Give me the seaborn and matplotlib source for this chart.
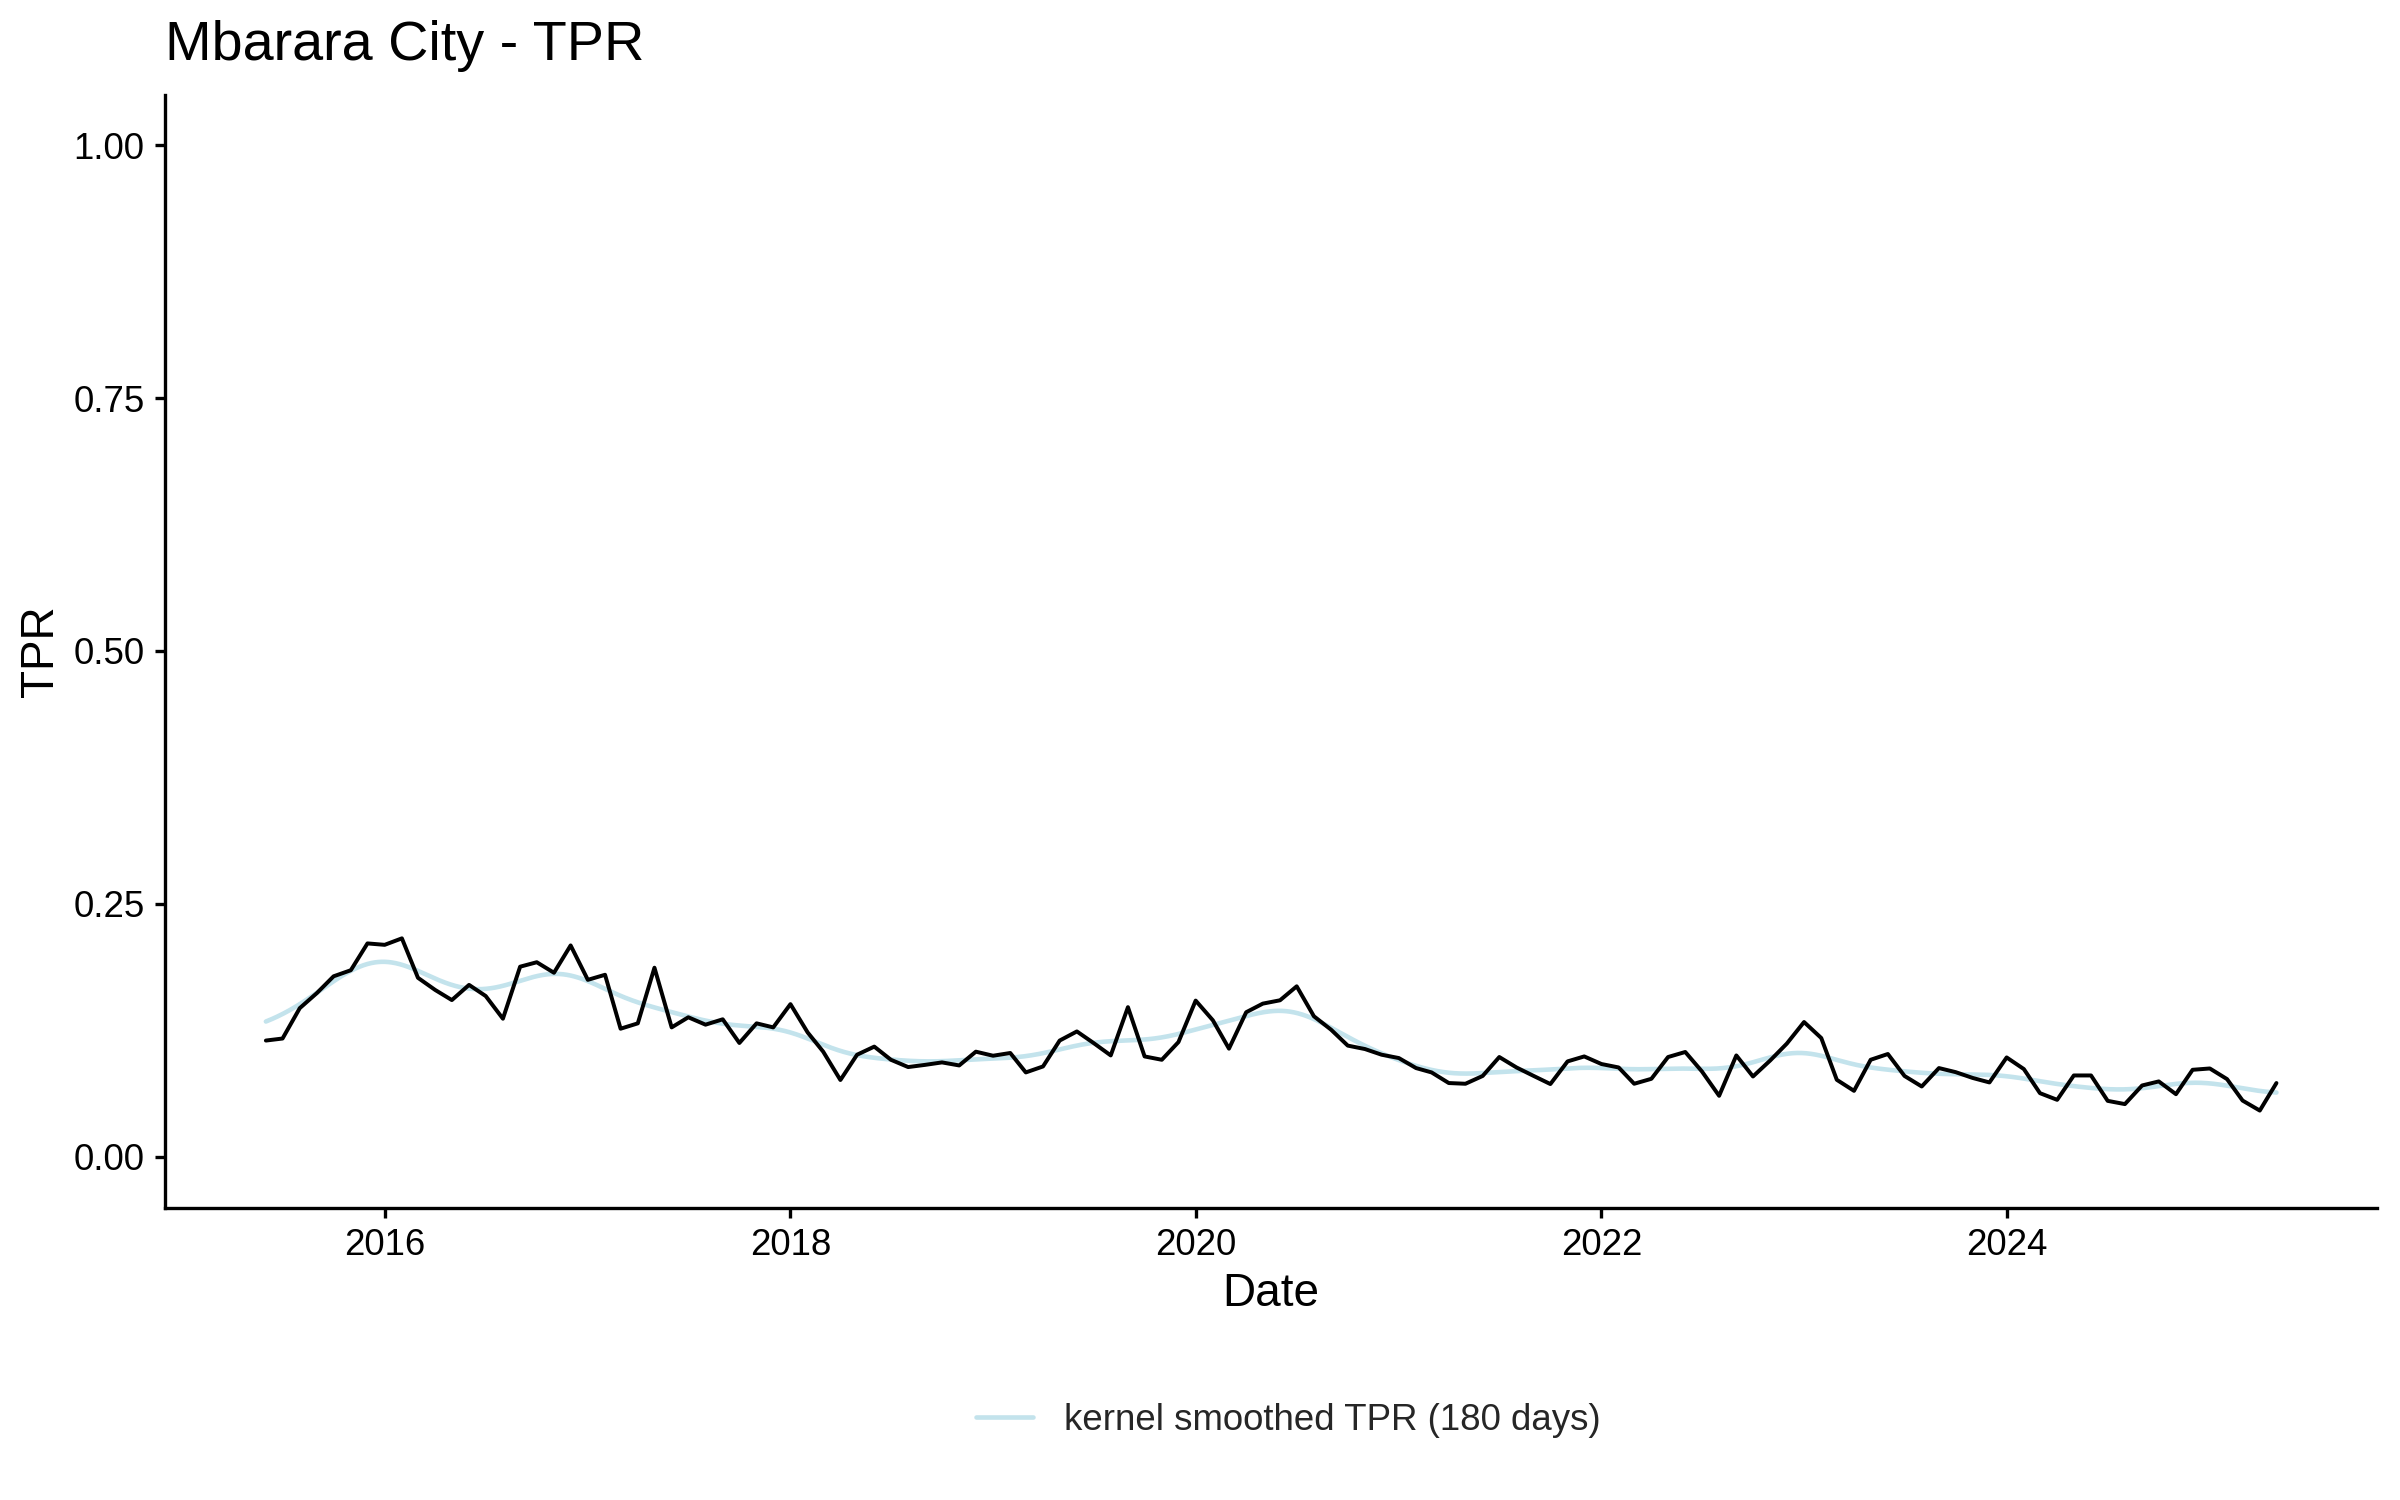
import numpy as np
import pandas as pd
import matplotlib
matplotlib.use("Agg")
import matplotlib.pyplot as plt
import matplotlib.dates as mdates
from matplotlib.lines import Line2D
import seaborn as sns

# ---- data (monthly TPR, Jun 2015 - May 2025) ----
start_month = "2015-06-01"
tpr = [
    0.115, 0.117, 0.147, 0.162, 0.1785, 0.1845, 0.211, 0.2096, 0.216, 0.177,
    0.165, 0.155, 0.170, 0.159, 0.1366, 0.188, 0.1924, 0.182, 0.209, 0.175,
    0.180, 0.1267, 0.132, 0.187, 0.128, 0.138, 0.1307, 0.136, 0.1126, 0.132,
    0.128, 0.151, 0.123, 0.104, 0.076, 0.101, 0.109, 0.096, 0.0888, 0.091,
    0.0934, 0.0904, 0.104, 0.100, 0.1027, 0.0835, 0.0894, 0.115, 0.124, 0.1126,
    0.1003, 0.148, 0.0993, 0.096, 0.1135, 0.1545, 0.135, 0.107, 0.143, 0.1515,
    0.1548, 0.1686, 0.139, 0.1257, 0.110, 0.1066, 0.101, 0.0977, 0.0878, 0.0835,
    0.073, 0.0723, 0.080, 0.0987, 0.0884, 0.080, 0.072, 0.0944, 0.0993, 0.0918,
    0.0884, 0.0723, 0.0772, 0.0987, 0.1037, 0.0845, 0.0604, 0.1003, 0.0795, 0.0953,
    0.112, 0.1333, 0.1175, 0.0762, 0.0653, 0.096, 0.1017, 0.080, 0.0696, 0.0878,
    0.0838, 0.078, 0.0736, 0.0983, 0.0868, 0.063, 0.0564, 0.0805, 0.0805, 0.0554,
    0.0522, 0.0706, 0.0746, 0.062, 0.0861, 0.0874, 0.0769, 0.0557, 0.0458, 0.073,
]
bandwidth_days = 180
title = "Mbarara City - TPR"
legend_label = "kernel smoothed TPR (180 days)"
y_ticks = [0.0, 0.25, 0.50, 0.75, 1.00]

dates = pd.date_range(start_month, periods=len(tpr), freq="MS")
df = pd.DataFrame({"Date": dates, "TPR": tpr})

# kernel smoother (normal kernel, R ksmooth convention: quartiles at +/- 0.25*bandwidth)
sd = 0.25 * bandwidth_days / 0.6744897501960817
t = (df["Date"] - df["Date"].iloc[0]).dt.days.to_numpy(dtype=float)
grid_dates = pd.date_range(dates[0], dates[-1], freq="D")
g = (grid_dates - dates[0]).days.to_numpy(dtype=float)
w = np.exp(-0.5 * ((g[:, None] - t[None, :]) / sd) ** 2)
smooth = (w @ np.asarray(tpr)) / w.sum(axis=1)
sm = pd.DataFrame({"Date": grid_dates, "TPR": smooth})

# ---- style ----
sns.set_style("ticks")
plt.rcParams["font.family"] = ["Liberation Sans", "DejaVu Sans"]

fig = plt.figure(figsize=(8, 5), dpi=300)
ax = fig.add_axes([0.0689, 0.195, 0.9215, 0.742])

smooth_color = "#c3e3ec"
sns.lineplot(data=sm, x="Date", y="TPR", ax=ax, color=smooth_color, linewidth=1.1)
sns.lineplot(data=df, x="Date", y="TPR", ax=ax, color="black", linewidth=0.95)

x0 = mdates.date2num(dates[0])
x1 = mdates.date2num(dates[-1])
pad = 0.05 * (x1 - x0)
ax.set_xlim(x0 - pad, x1 + pad)
ax.set_ylim(-0.05, 1.05)

ax.xaxis.set_major_locator(mdates.YearLocator(base=2))
ax.xaxis.set_major_formatter(mdates.DateFormatter("%Y"))
ax.set_yticks(y_ticks)
ax.set_yticklabels([f"{v:.2f}" for v in y_ticks])

for s in ["top", "right"]:
    ax.spines[s].set_visible(False)
for s in ["left", "bottom"]:
    ax.spines[s].set_color("black")
    ax.spines[s].set_linewidth(0.8)
ax.tick_params(axis="both", colors="black", labelcolor="black", width=0.8,
               length=2.5, labelsize=8.8, pad=2.5)

ax.set_xlabel("Date", fontsize=11, color="black", labelpad=2)
ax.set_ylabel("TPR", fontsize=11, color="black", labelpad=2.5)
fig.text(0.0689, 0.969, title, fontsize=13.4, ha="left", va="center", color="black")

handle = Line2D([], [], color=smooth_color, linewidth=1.1)
fig.legend([handle], [legend_label], loc="center", bbox_to_anchor=(0.537, 0.053),
           frameon=False, fontsize=8.8, handlelength=1.55, handletextpad=0.85)

fig.savefig("out.png", dpi=300)
